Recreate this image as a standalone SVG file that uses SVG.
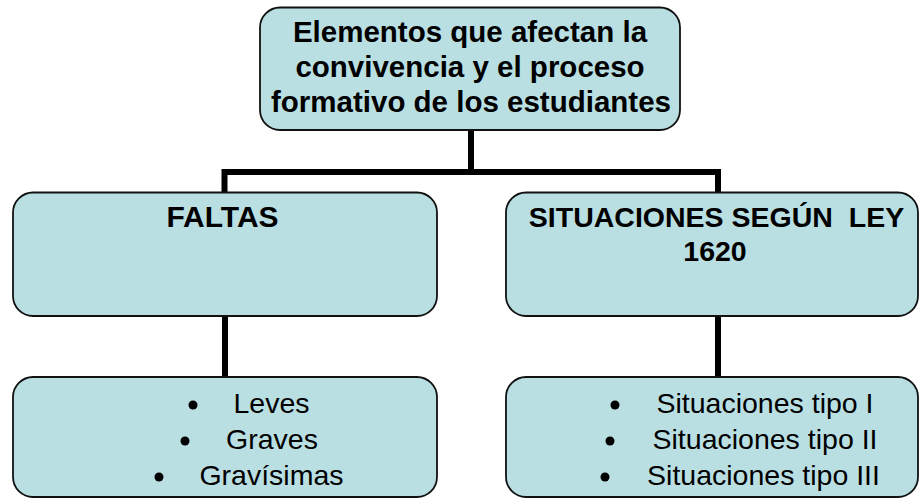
<svg xmlns="http://www.w3.org/2000/svg" width="919" height="498" viewBox="0 0 919 498">
<defs>
<style>
.box{fill:#B9DFE3;stroke:#111;stroke-width:1.8}
.conn{fill:none;stroke:#000;stroke-width:6;stroke-linejoin:miter;stroke-linecap:butt}
.b{font-family:"Liberation Sans",Arial,sans-serif;font-weight:bold;font-size:28.5px;fill:#000;text-anchor:middle}
.r{font-family:"Liberation Sans",Arial,sans-serif;font-size:28.5px;fill:#000;text-anchor:middle}
.dot{fill:#000}
</style>
</defs>
<rect width="919" height="498" fill="#fff"/>
<g id="connectors">
<path class="conn" d="M471 130 V172"/>
<path class="conn" d="M224.5 192 V172 H718 V192"/>
<path class="conn" d="M225 316 V377"/>
<path class="conn" d="M718 316 V377"/>
</g>
<g id="root">
<rect class="box" x="260" y="7.5" width="420" height="122.5" rx="20"/>
<text class="b" x="470" y="42" style="font-size:29.5px">Elementos que afectan la</text>
<text class="b" x="470" y="77" style="font-size:29.5px">convivencia y el proceso</text>
<text class="b" x="471" y="112" style="font-size:29.5px">formativo de los estudiantes</text>
</g>
<g id="faltas">
<rect class="box" x="13" y="192.5" width="424" height="123.5" rx="20"/>
<text class="b" x="222.5" y="227" style="font-size:30px">FALTAS</text>
</g>
<g id="situaciones">
<rect class="box" x="506" y="192.5" width="412" height="123.5" rx="20"/>
<text class="b" x="716.5" y="227" xml:space="preserve">SITUACIONES SEGÚN  LEY</text>
<text class="b" x="715" y="261">1620</text>
</g>
<g id="faltas-list">
<rect class="box" x="13" y="377" width="424" height="120" rx="20"/>
<circle class="dot" cx="193" cy="405" r="4.5"/>
<text class="r" x="271.5" y="413">Leves</text>
<circle class="dot" cx="185" cy="441" r="4.5"/>
<text class="r" x="272" y="449">Graves</text>
<circle class="dot" cx="159" cy="477" r="4.5"/>
<text class="r" x="271.5" y="485">Gravísimas</text>
</g>
<g id="situaciones-list">
<rect class="box" x="506" y="377" width="412" height="120" rx="20"/>
<circle class="dot" cx="615" cy="405" r="4.5"/>
<text class="r" x="765" y="413">Situaciones tipo I</text>
<circle class="dot" cx="610" cy="441" r="4.5"/>
<text class="r" x="765" y="449">Situaciones tipo II</text>
<circle class="dot" cx="605" cy="477" r="4.5"/>
<text class="r" x="763.5" y="485">Situaciones tipo III</text>
</g>
</svg>
